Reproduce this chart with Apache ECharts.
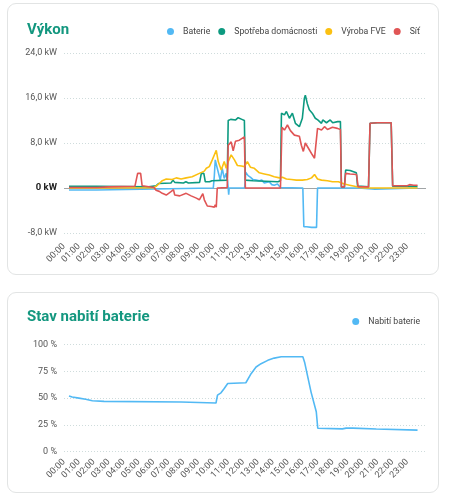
<!DOCTYPE html>
<html><head><meta charset="utf-8">
<script src="https://cdn.jsdelivr.net/npm/echarts@6/dist/echarts.min.js"></script>
<style>
html,body{margin:0;padding:0;background:#fff;width:457px;height:500px;overflow:hidden;}
.card{position:absolute;left:7px;width:432px;border:1px solid #e2e4e4;border-radius:9px;box-sizing:border-box;background:#fff;}
#c1{top:3px;height:272px;}
#c2{top:292px;height:201px;}
#chart{position:absolute;left:0;top:0;width:457px;height:500px;}
</style></head><body>
<div class="card" id="c1"></div>
<div class="card" id="c2"></div>
<div id="chart"></div>
<script>
// ---- data (time "HH:MM", value) ----
const hourLabels = ["00:00","01:00","02:00","03:00","04:00","05:00","06:00","07:00","08:00","09:00","10:00","11:00","12:00","13:00","14:00","15:00","16:00","17:00","18:00","19:00","20:00","21:00","22:00","23:00"];
const powerTicks = [-8, 0, 8, 16, 24];
const socTicks = [0, 25, 50, 75, 100];

const baterie = [["00:20",-0.35],["02:12",-0.35],["02:14",0],["10:00",0],["10:04",2.0],["10:08",5.0],["10:16",3.5],["10:28",1.4],["10:36",3.5],["10:44",1.7],["10:52",2.6],["10:57",1.4],["11:00",0],["11:02",-1.2],["11:04",0],["12:06",0],["12:10",2.8],["12:20",2.2],["12:30",1.9],["12:40",1.5],["12:53",1.4],["13:05",1.3],["13:15",1.4],["13:25",0.9],["13:33",0.8],["13:45",1.1],["13:55",0.6],["14:05",0.5],["14:18",0.7],["14:30",0.1],["14:34",0],["16:00",0],["16:04",-6.9],["16:15",-6.9],["16:35",-7.0],["16:55",-7.0],["16:59",0],["19:45",0],["19:48",-0.2],["20:50",-0.2],["20:55",0],["23:41",0]];

const spotreba = [["00:20",0.3],["02:12",0.3],["02:14",0.15],["05:40",0.2],["05:45",0.4],["06:10",0.4],["06:20",0.8],["07:10",0.9],["07:18",1.4],["07:25",1.0],["08:00",0.9],["08:10",1.1],["08:20",0.9],["09:05",1.0],["09:12",2.6],["09:22",2.6],["09:28",1.1],["09:45",1.1],["09:55",1.3],["10:56",1.4],["11:00",12.0],["11:10",12.2],["11:30",12.1],["11:40",12.5],["11:55",12.2],["12:05",12.0],["12:09",1.4],["12:40",1.3],["13:30",1.2],["14:20",1.1],["14:30",1.3],["14:34",13.3],["14:46",13.0],["14:54",13.6],["15:06",12.4],["15:18",13.3],["15:30",11.5],["15:46",10.9],["15:58",12.4],["16:06",15.9],["16:10",16.5],["16:18",15.0],["16:26",13.9],["16:30",14.2],["16:38",13.3],["16:50",12.4],["17:00",12.1],["17:15",11.5],["17:20",12.1],["17:35",11.6],["17:50",12.1],["18:00",11.6],["18:20",11.8],["18:31",11.8],["18:35",0.2],["18:47",0.2],["18:52",3.2],["19:10",3.1],["19:35",2.7],["19:40",0.35],["20:24",0.2],["20:30",11.5],["21:00",11.6],["21:55",11.6],["22:01",0.3],["23:41",0.3]];

const vyrobaFVE = [["00:20",0],["06:00",0.05],["06:10",0.3],["06:23",0.8],["06:35",1.3],["06:51",1.6],["07:15",1.5],["07:31",1.8],["07:51",1.6],["08:11",1.8],["08:35",2.0],["09:04",2.6],["09:24",3.0],["09:32",3.5],["09:44",3.8],["09:56",5.0],["10:12",6.7],["10:20",4.7],["10:32",3.2],["10:44",4.7],["10:52",3.5],["11:00",4.7],["11:12",5.9],["11:17",6.2],["11:25",5.0],["11:37",4.0],["11:53",3.9],["12:05",3.8],["12:17",4.7],["12:29",3.7],["12:45",3.5],["13:05",2.7],["13:25",2.5],["13:45",2.3],["14:05",2.0],["14:26",1.8],["14:38",1.9],["14:54",1.6],["15:14",1.5],["15:34",1.4],["15:58",1.4],["16:18",1.5],["16:35",1.8],["16:47",2.4],["16:59",1.6],["17:15",1.4],["17:39",1.3],["17:59",1.1],["18:23",1.1],["18:47",0.7],["19:08",0.5],["19:28",0.3],["19:48",0.1],["20:08",0],["23:41",0]];

const sit = [["00:20",0.1],["02:12",0.1],["03:00",0.2],["04:45",0.3],["04:50",0.5],["04:56",2.6],["05:02",2.9],["05:08",2.6],["05:14",0.4],["05:20",0.2],["06:02",0.1],["06:10",-0.4],["06:23",-0.6],["06:35",-0.95],["06:51",-1.25],["07:10",-0.65],["07:20",-0.3],["07:25",-1.25],["07:45",-1.4],["08:11",-0.95],["08:31",-1.4],["08:52",-1.8],["09:04",-2.1],["09:12",-1.8],["09:18",-1.0],["09:24",-2.1],["09:36",-3.2],["09:52",-3.3],["10:04",-3.4],["10:08",-3.0],["10:12",-3.4],["10:16",0],["10:56",0.1],["11:00",7.6],["11:05",7.9],["11:12",8.2],["11:20",6.6],["11:29",8.3],["11:45",8.5],["11:53",8.8],["12:05",9.1],["12:09",0],["14:30",0],["14:36",10.8],["14:46",10.3],["14:58",11.2],["15:10",10.2],["15:26",9.4],["15:34",9.6],["15:46",9.2],["15:54",7.6],["16:02",6.5],["16:10",8.0],["16:18",8.3],["16:26",6.8],["16:38",5.9],["16:47",5.3],["16:55",5.0],["16:59",10.6],["17:15",10.3],["17:27",10.9],["17:39",10.4],["17:59",10.8],["18:19",10.6],["18:31",10.4],["18:35",0.2],["18:47",0.2],["18:52",2.6],["19:10",2.5],["19:36",2.4],["19:42",0.25],["20:24",0.2],["20:30",11.5],["21:00",11.6],["21:55",11.6],["22:01",0.4],["22:30",0.4],["23:00",0.4],["23:09",0.6],["23:15",0.4],["23:25",0.5],["23:41",0.5]];

const nabitiBaterie = [["00:20",52],["00:33",51],["01:00",50],["01:27",49],["01:34",48.2],["01:54",47.5],["02:00",47.2],["02:41",46.9],["02:48",46.3],["07:50",46.3],["07:52",45.4],["10:11",45.4],["10:13",48],["10:17",52.8],["10:31",54.9],["10:44",59],["10:58",63.6],["11:04",64.3],["12:11",64.3],["12:32",72.8],["12:52",79],["13:12",82.1],["13:39",85.2],["14:05",87.3],["14:33",88.6],["16:00",88.6],["16:07",83.5],["16:33",55.6],["16:54",37.3],["17:00",21.9],["18:39",21.3],["18:47",21.6],["18:54",22.0],["19:21",22.0],["19:28",21.3],["20:55",21.2],["20:58",20.1],["23:41",20.1]];

// ---- helpers ----
const toH = s => { const p = s.split(':'); return +p[0] + (+p[1]) / 60; };
const conv = arr => arr.map(d => [toH(d[0]), d[1]]);

const FONT = 'Roboto';
const C = { bat:'#52b9f4', home:'#0d9a80', pv:'#fbc011', grid:'#e05555', title:'#13977f' };

const xAxisBase = (gi, margin) => ({
  type:'value', gridIndex:gi, min:0, max:24.25, interval:1,
  axisLine:{show:false}, axisTick:{show:false}, splitLine:{show:false},
  axisLabel:{ rotate:45, margin:margin, fontSize:9, color:'#555', fontFamily:FONT,
    formatter: v => (v >= 0 && v < 24 && Number.isInteger(v)) ? hourLabels[v] : '' }
});
const splitDots = { show:true, lineStyle:{ type:[1,2], color:'#cfdcdc', width:1 } };

const line = (name, data, color, xi, yi, extra) => Object.assign({
  name, type:'line', data:conv(data), xAxisIndex:xi, yAxisIndex:yi,
  showSymbol:false, symbol:'none', lineStyle:{ width:1.6, color }, itemStyle:{ color },
  emphasis:{disabled:true}, silent:true
}, extra || {});

const chart = echarts.init(document.getElementById('chart'), null, {renderer:'canvas'});
chart.setOption({
  animation:false,
  textStyle:{ fontFamily:FONT },
  title:[
    { text:'Výkon', left:22, top:18, textStyle:{ fontSize:15, fontWeight:'bold', color:C.title, fontFamily:FONT } },
    { text:'Stav nabití baterie', left:22, top:305, textStyle:{ fontSize:15, fontWeight:'bold', color:C.title, fontFamily:FONT } }
  ],
  legend:[
    { data:['Baterie','Spotřeba domácnosti','Výroba FVE','Síť'], right:32, top:22, icon:'circle',
      itemWidth:15, itemHeight:7, itemGap:8, textStyle:{ fontSize:8.7, color:'#444', fontFamily:FONT } },
    { data:['Nabití baterie'], right:32, top:312, icon:'circle',
      itemWidth:15, itemHeight:7, itemGap:8, textStyle:{ fontSize:8.7, color:'#444', fontFamily:FONT } }
  ],
  grid:[
    { left:64, right:31, top:53, height:180 },
    { left:64, right:31, top:344.5, height:107.2 }
  ],
  xAxis:[ xAxisBase(0, 12), xAxisBase(1, 9) ],
  yAxis:[
    { type:'value', gridIndex:0, min:powerTicks[0], max:powerTicks[powerTicks.length-1], interval:8,
      axisLine:{show:false}, axisTick:{show:false}, splitLine:splitDots,
      axisLabel:{ margin:7, fontSize:9, color:'#555', fontFamily:FONT,
        formatter: v => v === 0 ? '{z|0 kW}' : v.toFixed(1).replace('.', ',') + ' kW',
        rich:{ z:{ fontWeight:'bold', color:'#222', fontSize:9.5, fontFamily:FONT } } } },
    { type:'value', gridIndex:1, min:socTicks[0], max:socTicks[socTicks.length-1], interval:25,
      axisLine:{show:false}, axisTick:{show:false}, splitLine:splitDots,
      axisLabel:{ margin:7, fontSize:9, color:'#555', fontFamily:FONT, formatter:'{value} %' } }
  ],
  series:[
    line('Baterie', baterie, C.bat, 0, 0, {
      markLine:{ silent:true, symbol:'none', z:1, label:{show:false},
        lineStyle:{ color:'#a0a4a6', type:'solid', width:1 }, data:[{ yAxis:0 }] } }),
    line('Spotřeba domácnosti', spotreba, C.home, 0, 0),
    line('Výroba FVE', vyrobaFVE, C.pv, 0, 0),
    line('Síť', sit, C.grid, 0, 0),
    line('Nabití baterie', nabitiBaterie, C.bat, 1, 1)
  ]
});
</script>
</body></html>
